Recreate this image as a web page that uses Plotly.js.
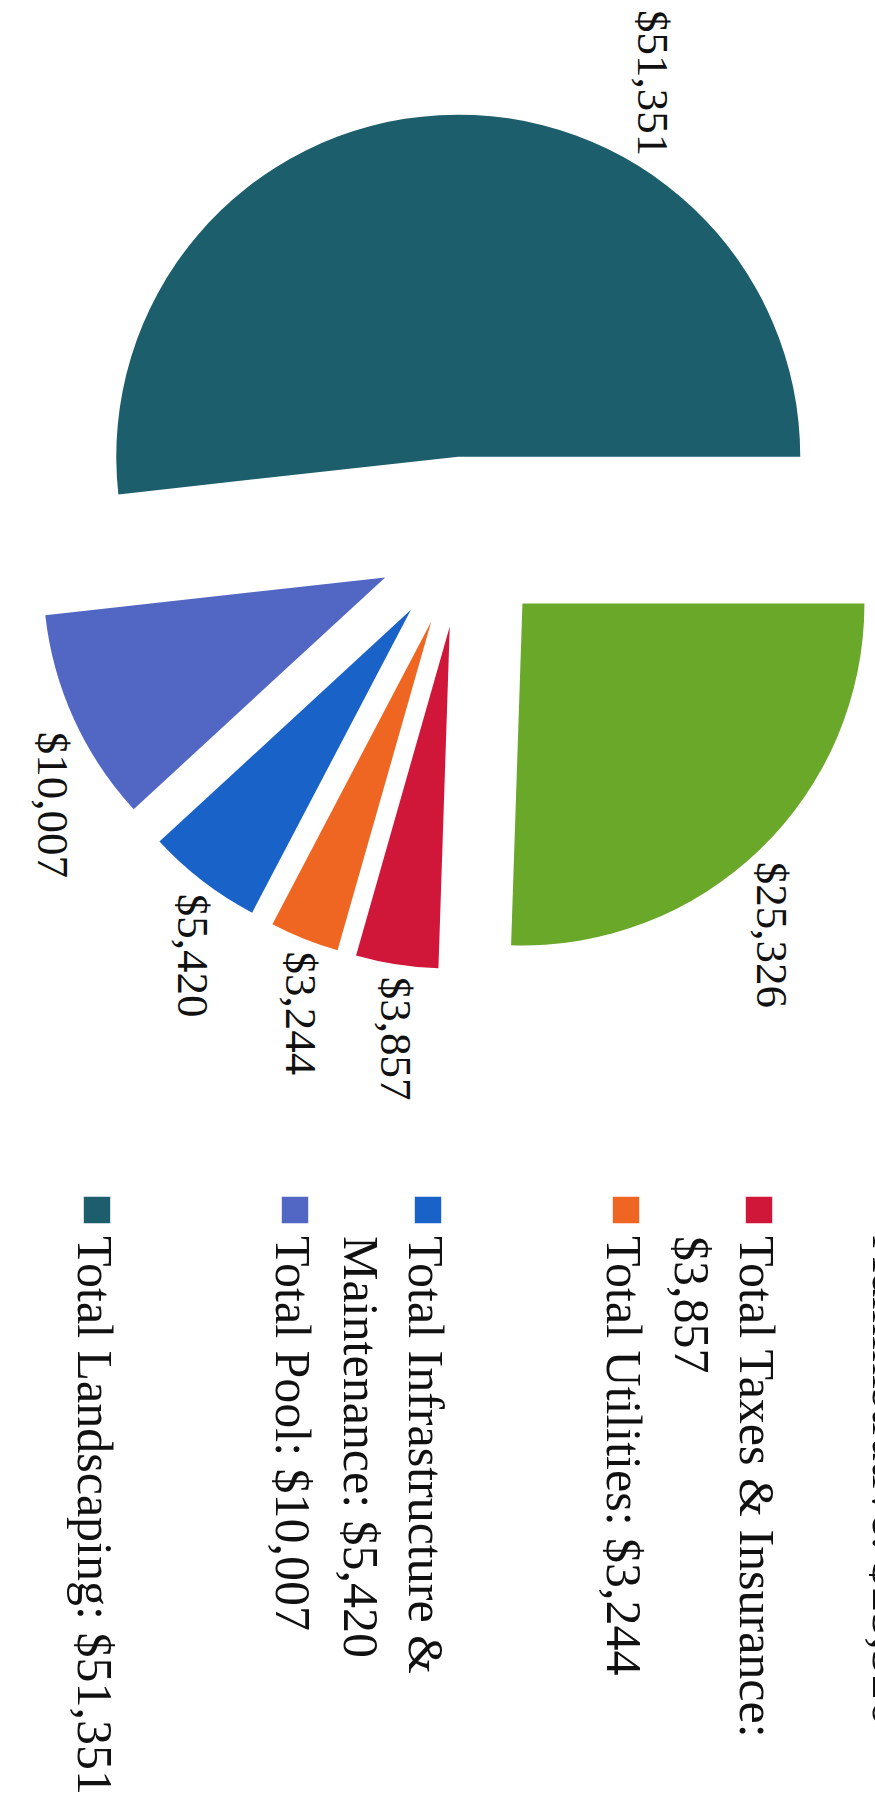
<!DOCTYPE html>
<html><head><meta charset="utf-8">
<script src="https://cdn.plot.ly/plotly-3.0.1.min.js"></script>
<style>
html,body{margin:0;padding:0;background:#fff;}
#page{position:relative;width:875px;height:1796px;overflow:hidden;background:#fff;}
#rot{position:absolute;left:0;top:0;width:1796px;height:875px;overflow:hidden;transform-origin:0 0;transform:translateX(875px) rotate(90deg);}
#chart{position:absolute;left:0;top:-150px;width:1900px;height:1050px;}
</style></head><body>
<div id="page"><div id="rot"><div id="chart"></div></div></div>
<script>
// ---- data ----
const categories = ['Total Administrative', 'Total Taxes & Insurance', 'Total Utilities',
                    'Total Infrastructure & Maintenance', 'Total Pool', 'Total Landscaping'];
const values = [25326, 3857, 3244, 5420, 10007, 51351];
const colors = ['#6aa82a', '#d0173a', '#ee6622', '#1862c8', '#5266c4', '#1c5e6c'];
// legend wrapping (layout only): text before the break, and padding lines after
const wrapAt = ['Total ', ': ', null, '& ', null, null];
const padLines = [1, 0, 2, 0, 2, 0];
// where each value label goes: native outside label, or a free label (largest slice)
const labelMode = ['outside', 'outside', 'outside', 'outside', 'outside', 'none'];

function fmt(v){ return '$' + v.toLocaleString('en-US'); }
const legendLabels = categories.map((c, i) => {
  let s = c + ': ' + fmt(values[i]);
  const w = wrapAt[i];
  if (w) { const k = s.indexOf(w) + w.length; s = s.slice(0, k).trimEnd() + '<br>' + s.slice(k); }
  for (let p = 0; p < padLines[i]; p++) s += '<br> ';
  return s;
});

const FONT = 'Liberation Serif, Times New Roman, serif';
const W = 1900, H = 1050;

const trace = {
  type: 'pie',
  labels: legendLabels,
  values: values,
  marker: {colors: colors, line: {width: 0}},
  sort: false,
  direction: 'clockwise',
  rotation: 0,
  pull: 0.25,
  textposition: labelMode,
  texttemplate: '$%{value:,}',
  textfont: {family: FONT, size: 45, color: '#111'},
  domain: {x: [42 / W, 1042 / W], y: [1 - 989.5 / H, 1 - 134.5 / H]},
  hoverinfo: 'label+value'
};

const freeLabels = labelMode.map((m, i) => m === 'none' ? i : -1).filter(i => i >= 0);
const annotations = freeLabels.map(i => ({
  xref: 'paper', yref: 'paper',
  x: 83 / W, y: 1 - 372 / H, xanchor: 'center', yanchor: 'middle',
  text: fmt(values[i]), showarrow: false,
  font: {family: FONT, size: 45, color: '#111'}
}));

const layout = {
  width: W, height: H,
  margin: {l: 0, r: 0, t: 0, b: 0},
  paper_bgcolor: '#fff',
  font: {family: FONT, color: '#111'},
  showlegend: true,
  annotations: annotations,
  legend: {
    x: 1196 / W, xanchor: 'left',
    y: 1 - 29 / H, yanchor: 'top',
    valign: 'top',
    font: {family: FONT, size: 50, color: '#111'},
    bgcolor: 'rgba(0,0,0,0)'
  }
};

Plotly.newPlot('chart', [trace], layout, {staticPlot: true}).then(() => {
  document.querySelectorAll('#chart path.legendpie').forEach(p => {
    p.setAttribute('transform', 'translate(14,0) scale(2.2)');
  });
});
</script>
</body></html>
